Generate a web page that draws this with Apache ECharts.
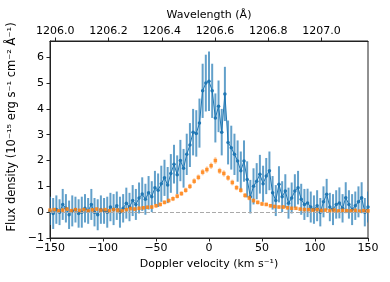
<!DOCTYPE html>
<html><head><meta charset="utf-8">
<script src="https://cdn.jsdelivr.net/npm/echarts@6/dist/echarts.min.js"></script>
<style>html,body{margin:0;padding:0;background:#fff}#c{width:390px;height:282px}</style>
</head><body><div id="c"></div>
<script>
const velBlue = [-150,-147,-144,-141,-138,-135,-132,-129,-126,-123,-120,-117,-114,-111,-108,-105,-102,-99,-96,-93,-90,-87,-84,-81,-78,-75,-72,-69,-66,-63,-60,-57,-54,-51,-48,-45,-42,-39,-36,-33,-30,-27,-24,-21,-18,-15,-12,-9,-6,-3,0,3,6,9,12,15,18,21,24,27,30,33,36,39,42,45,48,51,54,57,60,63,66,69,72,75,78,81,84,87,90,93,96,99,102,105,108,111,114,117,120,123,126,129,132,135,138,141,144,147,150];
const fluxBlue = [0.05,-0.05,0.1,0.0,0.3,0.15,-0.1,0.05,0.1,-0.05,0.0,0.15,0.05,0.3,0.0,-0.1,0.1,0.05,0.0,0.2,0.1,0.25,0.0,0.15,0.35,0.2,0.45,0.3,0.55,0.7,0.5,0.75,0.6,0.95,0.85,1.1,1.33,1.05,1.5,1.86,1.45,2.0,1.7,2.24,2.6,3.1,3.05,3.45,4.7,5.0,5.07,4.7,3.65,4.1,3.1,4.58,2.7,2.5,2.24,1.98,1.6,1.98,1.27,0.6,1.0,1.2,1.47,1.1,1.4,1.6,0.75,0.45,1.08,0.6,0.82,0.35,0.55,0.82,0.95,0.5,0.3,0.36,0.2,0.1,0.25,0.0,0.4,0.69,0.2,0.1,0.3,0.36,0.15,0.56,0.3,0.1,0.25,0.4,0.56,0.0,0.2];
const errBlue = [0.55,0.6,0.55,0.5,0.6,0.55,0.55,0.6,0.5,0.55,0.6,0.55,0.5,0.6,0.55,0.6,0.55,0.5,0.6,0.55,0.6,0.55,0.6,0.55,0.6,0.55,0.6,0.6,0.6,0.65,0.6,0.65,0.6,0.65,0.65,0.7,0.7,0.7,0.75,0.75,0.75,0.8,0.75,0.8,0.85,0.9,0.9,0.95,1.05,1.1,1.15,1.05,0.95,1.0,0.9,1.05,0.85,0.85,0.8,0.8,0.75,0.8,0.7,0.65,0.7,0.7,0.75,0.7,0.7,0.75,0.65,0.6,0.7,0.6,0.65,0.6,0.6,0.65,0.65,0.6,0.6,0.55,0.6,0.55,0.6,0.55,0.6,0.6,0.55,0.6,0.55,0.6,0.55,0.6,0.55,0.6,0.55,0.6,0.6,0.55,0.6];
const velOrange = [-150,-146,-142,-138,-134,-130,-126,-122,-118,-114,-110,-106,-102,-98,-94,-90,-86,-82,-78,-74,-70,-66,-62,-58,-54,-50,-46,-42,-38,-34,-30,-26,-22,-18,-14,-10,-6,-2,2,6,10,14,18,22,26,30,34,38,42,46,50,54,58,62,66,70,74,78,82,86,90,94,98,102,106,110,114,118,122,126,130,134,138,142,146,150];
const fluxOrange = [0.08,0.1,0.05,0.08,0.12,0.06,0.1,0.07,0.1,0.05,0.09,0.12,0.08,0.1,0.06,0.1,0.08,0.05,0.1,0.14,0.12,0.15,0.17,0.19,0.2,0.25,0.3,0.38,0.45,0.52,0.62,0.72,0.85,1.0,1.2,1.35,1.55,1.65,1.8,2.0,1.6,1.5,1.33,1.15,0.95,0.85,0.65,0.55,0.45,0.38,0.32,0.3,0.25,0.22,0.2,0.2,0.17,0.15,0.15,0.12,0.1,0.1,0.08,0.1,0.07,0.08,0.06,0.08,0.05,0.07,0.06,0.05,0.07,0.04,0.06,0.05];
const errOrange = [0.06,0.06,0.06,0.06,0.06,0.06,0.06,0.06,0.06,0.06,0.06,0.06,0.06,0.06,0.06,0.06,0.06,0.06,0.06,0.07,0.07,0.07,0.07,0.07,0.07,0.08,0.08,0.08,0.08,0.09,0.09,0.09,0.1,0.1,0.11,0.11,0.12,0.12,0.12,0.13,0.12,0.12,0.11,0.11,0.1,0.1,0.09,0.09,0.08,0.08,0.08,0.07,0.07,0.07,0.07,0.07,0.07,0.06,0.06,0.06,0.06,0.06,0.06,0.06,0.06,0.06,0.06,0.06,0.06,0.06,0.06,0.06,0.06,0.06,0.06,0.06];
const xTicks = [-150,-100,-50,0,50,100,150];
const yTicks = [-1,0,1,2,3,4,5,6];
const waveTicks = [1206.0,1206.2,1206.4,1206.6,1206.8,1207.0];
const waveMin = 1205.980, waveMax = 1207.175;
const yMin = -1, yMax = 6.63;

const FONT = 'DejaVu Sans';
const FS = 11;
const AX = '#222';
const fmtMinus = v => String(v).replace('-', '\u2212');

function errRender(color, width) {
  return function (params, api) {
    const x = api.value(0), y = api.value(1), e = api.value(2);
    const p1 = api.coord([x, y - e]), p2 = api.coord([x, y + e]);
    return { type: 'line', shape: { x1: p1[0], y1: p1[1], x2: p2[0], y2: p2[1] },
      style: { stroke: color, lineWidth: width } };
  };
}
const blueErrData = velBlue.map((v, i) => [v, fluxBlue[i], errBlue[i]]);
const orangeErrData = velOrange.map((v, i) => [v, fluxOrange[i], errOrange[i]]);

const chart = echarts.init(document.getElementById('c'), null, { renderer: 'canvas' });
chart.setOption({
  animation: false,
  backgroundColor: '#fff',
  textStyle: { fontFamily: FONT },
  grid: { left: 50, right: 22, top: 41, bottom: 44, show: true, borderColor: AX, borderWidth: 1, backgroundColor: 'transparent' },
  xAxis: [{
    type: 'value', min: -150, max: 150, interval: 50, position: 'bottom',
    name: 'Doppler velocity (km s\u207B\u00B9)', nameLocation: 'middle', nameGap: 21,
    nameTextStyle: { fontFamily: FONT, fontSize: FS, color: '#000' },
    axisLine: { show: true, onZero: false, lineStyle: { color: AX, width: 1 } },
    axisTick: { show: true, length: 3.5, lineStyle: { color: AX } },
    axisLabel: { fontFamily: FONT, fontSize: FS, color: '#000', margin: 5, formatter: fmtMinus },
    splitLine: { show: false }
  }, {
    type: 'value', min: waveMin, max: waveMax, position: 'top',
    name: 'Wavelength (\u00C5)', nameLocation: 'middle', nameGap: 13,
    nameTextStyle: { fontFamily: FONT, fontSize: FS, color: '#000' },
    axisLine: { show: true, onZero: false, lineStyle: { color: AX, width: 1 } },
    axisTick: { show: true, length: 3.5, lineStyle: { color: AX }, customValues: waveTicks },
    axisLabel: { fontFamily: FONT, fontSize: FS, color: '#000', margin: 4, customValues: waveTicks,
      formatter: v => Number(v).toFixed(1) },
    splitLine: { show: false }
  }],
  yAxis: [{
    type: 'value', min: yMin, max: yMax,
    axisLine: { show: true, onZero: false, lineStyle: { color: AX, width: 1 } },
    axisTick: { show: true, length: 3.5, lineStyle: { color: AX }, customValues: yTicks },
    axisLabel: { fontFamily: FONT, fontSize: FS, color: '#000', margin: 6, customValues: yTicks, formatter: fmtMinus },
    splitLine: { show: false }
  }],
  graphic: [{
    type: 'text', x: 12, y: 127, rotation: Math.PI / 2,
    style: { text: 'Flux density (10\u207B\u00B9\u2075 erg s\u207B\u00B9 cm\u207B\u00B2 \u00C5\u207B\u00B9)',
      fontFamily: FONT, fontSize: 11.5, fill: '#000', align: 'center', verticalAlign: 'middle' }
  }],
  series: [{
    type: 'custom', xAxisIndex: 0, yAxisIndex: 0, z: 1,
    renderItem: errRender('rgba(31,119,180,0.7)', 2),
    encode: { x: 0, y: 1 }, data: blueErrData, clip: true, silent: true
  }, {
    type: 'line', xAxisIndex: 0, yAxisIndex: 0, z: 2,
    data: velBlue.map((v, i) => [v, fluxBlue[i]]),
    symbol: 'circle', symbolSize: 3.5, showSymbol: true,
    itemStyle: { color: '#1f77b4' }, lineStyle: { color: '#1f77b4', width: 1 },
    markLine: { silent: true, symbol: 'none', label: { show: false },
      lineStyle: { color: '#aaaaaa', type: [4, 2], width: 1 }, data: [{ yAxis: 0 }] }
  }, {
    type: 'custom', xAxisIndex: 0, yAxisIndex: 0, z: 3,
    renderItem: errRender('rgba(255,127,14,0.4)', 2),
    encode: { x: 0, y: 1 }, data: orangeErrData, clip: true, silent: true
  }, {
    type: 'scatter', xAxisIndex: 0, yAxisIndex: 0, z: 4,
    data: velOrange.map((v, i) => [v, fluxOrange[i]]),
    symbol: 'rect', symbolSize: 3.5,
    itemStyle: { color: '#ff7f0e' }
  }]
});
</script></body></html>
